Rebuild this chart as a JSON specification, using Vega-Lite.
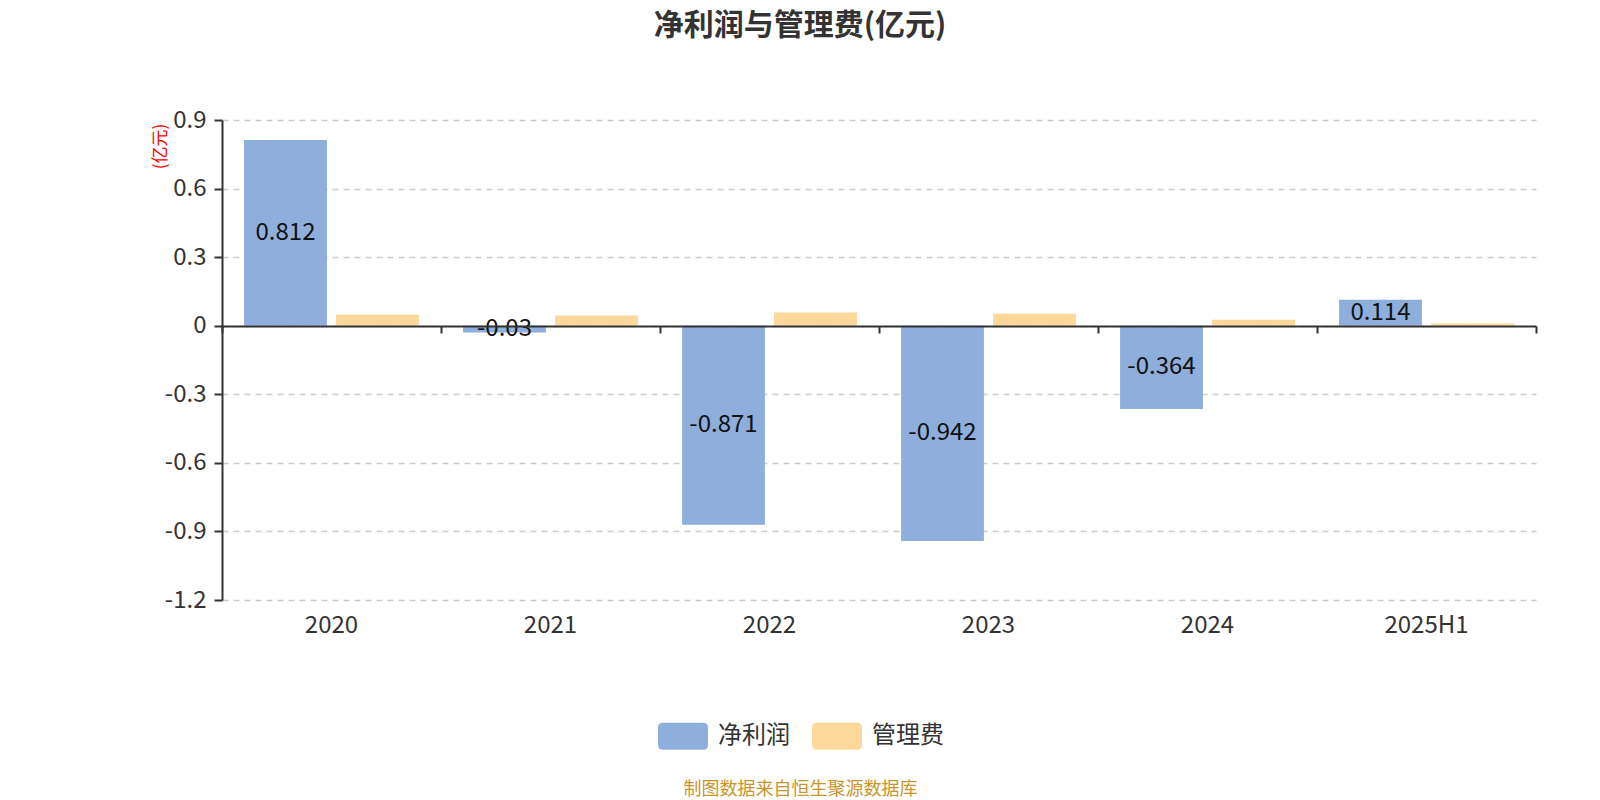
{
  "$schema": "https://vega.github.io/schema/vega-lite/v6.json",
  "width": 1314,
  "height": 480,
  "autosize": {"type": "none"},
  "padding": {"left": 222, "top": 120, "right": 64, "bottom": 200},
  "background": "#ffffff",
  "config": {
    "view": {"stroke": null},
    "font": "Noto Sans CJK SC"
  },
  "title": {
    "text": "净利润与管理费(亿元)",
    "fontSize": 30,
    "fontWeight": "bold",
    "color": "#333333",
    "anchor": "middle",
    "dx": -79,
    "offset": 67,
    "font": "Noto Sans CJK SC"
  },
  "data": {
    "values": [
      {"year": "2020", "series": "净利润", "value": 0.812},
      {"year": "2020", "series": "管理费", "value": 0.048},
      {"year": "2021", "series": "净利润", "value": -0.03},
      {"year": "2021", "series": "管理费", "value": 0.045},
      {"year": "2022", "series": "净利润", "value": -0.871},
      {"year": "2022", "series": "管理费", "value": 0.058},
      {"year": "2023", "series": "净利润", "value": -0.942},
      {"year": "2023", "series": "管理费", "value": 0.052},
      {"year": "2024", "series": "净利润", "value": -0.364},
      {"year": "2024", "series": "管理费", "value": 0.026},
      {"year": "2025H1", "series": "净利润", "value": 0.114},
      {"year": "2025H1", "series": "管理费", "value": 0.01}
    ]
  },
  "resolve": {"axis": {"x": "independent", "y": "independent"}, "scale": {"y": "independent"}},
  "layer": [
    {
      "mark": {"type": "bar"},
      "encoding": {
        "x": {
          "field": "year",
          "type": "nominal",
          "sort": ["2020", "2021", "2022", "2023", "2024", "2025H1"],
          "scale": {"paddingInner": 0, "paddingOuter": 0},
          "axis": {
            "orient": "bottom",
            "offset": -274,
            "title": null,
            "labels": false,
            "grid": false,
            "domain": true,
            "domainColor": "#333333",
            "domainWidth": 2,
            "ticks": true,
            "tickBand": "extent",
            "tickColor": "#333333",
            "tickWidth": 2,
            "tickSize": 7,
            "zindex": 2
          }
        },
        "xOffset": {
          "field": "series",
          "type": "nominal",
          "scale": {"domain": ["净利润", "管理费"], "paddingInner": 0.1, "paddingOuter": 0.24}
        },
        "y": {
          "field": "value",
          "type": "quantitative",
          "scale": {"domain": [-1.2, 0.9], "nice": false, "zero": false},
          "axis": {
            "title": "(亿元)",
            "titleColor": "#ff0000",
            "titleFontSize": 17,
            "titleFontWeight": "normal",
            "titleX": -62,
            "titleY": 26,
            "titleAlign": "center",
            "titleBaseline": "middle",
            "titleAngle": -90,
            "values": [0.9, 0.6, 0.3, 0, -0.3, -0.6, -0.9, -1.2],
            "labelExpr": "datum.value + ''",
            "labelFontSize": 24,
            "labelColor": "#333333",
            "labelPadding": 8,
            "tickColor": "#333333",
            "tickSize": 8,
            "tickWidth": 2,
            "domainColor": "#333333",
            "domainWidth": 2,
            "grid": true,
            "gridColor": "#cccccc",
            "gridDash": [6, 5],
            "gridWidth": 1.3
          }
        },
        "color": {
          "field": "series",
          "type": "nominal",
          "scale": {"domain": ["净利润", "管理费"], "range": ["#8eaedb", "#fdd89b"]},
          "legend": {
            "orient": "none",
            "legendX": 436,
            "legendY": 591,
            "direction": "horizontal",
            "title": null,
            "symbolType": "M-0.8,-0.54 L0.8,-0.54 Q1,-0.54 1,-0.34 L1,0.34 Q1,0.54 0.8,0.54 L-0.8,0.54 Q-1,0.54 -1,0.34 L-1,-0.34 Q-1,-0.54 -0.8,-0.54 Z",
            "symbolSize": 2500,
            "symbolStrokeWidth": 0,
            "symbolOpacity": 1,
            "labelFontSize": 24,
            "labelColor": "#333333",
            "labelOffset": 10,
            "columnPadding": 22
          }
        }
      }
    },
    {
      "transform": [{"filter": "datum.series === '净利润'"}],
      "mark": {"type": "text", "fontSize": 24, "color": "#111111", "baseline": "middle", "align": "center"},
      "encoding": {
        "x": {
          "field": "year",
          "type": "nominal",
          "sort": ["2020", "2021", "2022", "2023", "2024", "2025H1"],
          "axis": {
            "orient": "bottom",
            "title": "制图数据来自恒生聚源数据库",
            "titleColor": "#c9952b",
            "titleFontSize": 18,
            "titleFontWeight": "normal",
            "titleX": 578,
            "titleY": 189,
            "titleAlign": "center",
            "titleBaseline": "middle",
            "labelAngle": 0,
            "labelFontSize": 24,
            "labelColor": "#333333",
            "labelPadding": 13,
            "ticks": false,
            "domain": false,
            "grid": false
          }
        },
        "xOffset": {"field": "series", "type": "nominal"},
        "y": {
          "field": "value",
          "type": "quantitative",
          "scale": {"domain": [-2.4, 1.8], "nice": false, "zero": false},
          "axis": null
        },
        "text": {"field": "value", "type": "nominal"}
      }
    }
  ]
}
